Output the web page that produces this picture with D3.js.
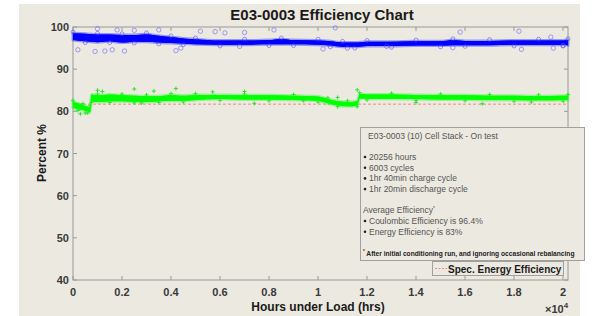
<!DOCTYPE html>
<html>
<head>
<meta charset="utf-8">
<script src="https://cdn.jsdelivr.net/npm/d3@7"></script>
<style>
  body { margin: 0; background: #fff; }
  svg { display: block; font-family: "Liberation Sans", Arial, sans-serif; }
</style>
</head>
<body>
<svg id="chart" width="597" height="316"></svg>
<script>
var w = 597, h = 316;
var margin = {left: 73, right: 29, top: 27, bottom: 36};

// coulombic efficiency band (blue circles)
var blueHours  = [0, 500, 1000, 1500, 2000, 2500, 3000, 3500, 4000, 4500, 5000, 6000, 7000, 8000, 8500, 9000, 10000, 10500, 11000, 11500, 12000, 13000, 14000, 15000, 15500, 16000, 17000, 18000, 19000, 20000, 20200];
var blueMid    = [97.7, 97.5, 97.3, 97.4, 97.2, 97.3, 97.4, 97.1, 96.9, 96.7, 96.5, 96.3, 96.3, 96.4, 96.5, 96.4, 96.3, 96.1, 95.8, 95.8, 96.0, 96.0, 96.1, 96.1, 96.3, 96.2, 96.2, 96.3, 96.3, 96.3, 96.3];
var blueSpread = [0.8, 0.9, 0.9, 0.8, 0.9, 0.8, 0.9, 0.8, 0.7, 0.6, 0.6, 0.5, 0.5, 0.5, 0.6, 0.5, 0.5, 0.5, 0.5, 0.5, 0.5, 0.5, 0.5, 0.5, 0.6, 0.5, 0.5, 0.5, 0.5, 0.5, 0.6];
var blueOutliers = [[200, 94.6], [900, 94.2], [1300, 94.3], [1600, 94.6], [2100, 94.3], [1000, 99.6], [1800, 99.3], [2500, 99.2], [3500, 99.3], [4200, 94.4], [4400, 95.0], [5200, 99.0], [5800, 98.9], [6200, 98.6], [7000, 98.7], [6800, 95.4], [8200, 99.3], [10700, 99.8], [10200, 94.8], [11200, 95.0], [12800, 95.4], [15800, 98.8], [15500, 95.1], [18200, 99.0], [18300, 94.7], [19500, 97.6], [19600, 95.0], [20000, 95.6]];

// energy efficiency band (green plus)
var greenHours  = [0, 200, 400, 600, 700, 750, 1000, 1500, 2000, 2500, 3000, 3500, 4000, 4500, 5000, 6000, 7000, 8000, 9000, 10000, 10400, 10800, 11200, 11600, 11700, 12000, 13000, 14000, 15000, 16000, 17000, 18000, 19000, 20000, 20200];
var greenMid    = [81.6, 81.2, 80.9, 80.5, 80.4, 83.2, 83.0, 83.2, 83.1, 83.0, 82.9, 83.0, 83.2, 83.1, 83.3, 83.4, 83.3, 83.3, 83.2, 83.0, 82.4, 81.9, 81.7, 81.9, 83.6, 83.5, 83.5, 83.4, 83.3, 83.3, 83.2, 83.2, 83.1, 83.2, 83.2];
var greenSpread = [0.7, 0.7, 0.6, 0.6, 0.6, 0.8, 0.8, 0.8, 0.7, 0.7, 0.7, 0.6, 0.7, 0.6, 0.6, 0.5, 0.5, 0.5, 0.5, 0.5, 0.5, 0.5, 0.5, 0.5, 0.5, 0.5, 0.5, 0.5, 0.5, 0.5, 0.5, 0.5, 0.5, 0.5, 0.5];
var greenOutliers = [[300, 79.4], [500, 79.6], [1000, 85.0], [1200, 84.7], [2500, 85.3], [3300, 84.8], [4200, 85.4], [5700, 84.6], [7000, 84.7], [10800, 83.3], [11600, 85.1], [9400, 82.5], [14000, 82.1], [16700, 81.8], [18700, 82.2], [7400, 81.9], [2800, 82.0]];

var specEnergy = 81.7;
var xTicks = [0, 2000, 4000, 6000, 8000, 10000, 12000, 14000, 16000, 18000, 20000];
var xTickLabels = ["0", "0.2", "0.4", "0.6", "0.8", "1", "1.2", "1.4", "1.6", "1.8", "2"];
var yTicks = [40, 50, 60, 70, 80, 90, 100];

var noteTitle = "E03-0003 (10) Cell Stack -  On test";
var noteBullets1 = ["20256 hours", "6003 cycles", "1hr 40min charge cycle", "1hr 20min discharge cycle"];
var noteBullets2 = ["Coulombic Efficiency is 96.4%", "Energy Efficiency is 83%"];
var footnote = "After initial conditioning run, and ignoring occasional rebalancing";

var svg = d3.select("#chart");

// figure background
svg.append("rect").attr("x", 19).attr("y", 4).attr("width", 561).attr("height", 312).attr("fill", "#ece9e0");

var x = d3.scaleLinear().domain([0, 20200]).range([margin.left, 568]);
var x0 = d3.scaleLinear().domain([0, 20000]).range([margin.left, 563]);
var y = d3.scaleLinear().domain([40, 100]).range([280, margin.top]);

var axisColor = "#9a9a9a";
svg.append("rect").attr("x", x(0)).attr("y", y(100)).attr("width", x(20200) - x(0)).attr("height", y(40) - y(100))
  .attr("fill", "none").attr("stroke", axisColor).attr("stroke-width", 1);

// ticks point inward, MATLAB style
xTicks.forEach(function(t) {
  svg.append("line").attr("x1", x0(t)).attr("x2", x0(t)).attr("y1", y(40)).attr("y2", y(40) - 4).attr("stroke", axisColor);
  svg.append("line").attr("x1", x0(t)).attr("x2", x0(t)).attr("y1", y(100)).attr("y2", y(100) + 4).attr("stroke", axisColor);
});
yTicks.forEach(function(t) {
  svg.append("line").attr("x1", x(0)).attr("x2", x(0) + 4).attr("y1", y(t)).attr("y2", y(t)).attr("stroke", axisColor);
  svg.append("line").attr("x1", x(20200)).attr("x2", x(20200) - 4).attr("y1", y(t)).attr("y2", y(t)).attr("stroke", axisColor);
});

svg.selectAll(".ytl").data(yTicks).enter().append("text")
  .attr("x", x(0) - 4).attr("y", function(d) { return y(d) + 4; })
  .attr("text-anchor", "end").attr("font-size", 11).attr("font-weight", "bold").attr("fill", "#3a3a3a")
  .text(function(d) { return d; });
svg.selectAll(".xtl").data(xTicks).enter().append("text")
  .attr("x", function(d) { return x0(d); }).attr("y", 296)
  .attr("text-anchor", "middle").attr("font-size", 11).attr("font-weight", "bold").attr("fill", "#3a3a3a")
  .text(function(d, i) { return xTickLabels[i]; });

var mult = svg.append("text").attr("x", 545).attr("y", 313).attr("font-size", 11).attr("font-weight", "bold").attr("fill", "#3a3a3a");
mult.append("tspan").text("\u00d710");
mult.append("tspan").attr("dy", -5).attr("font-size", 8).text("4");

// spec line
svg.append("line").attr("x1", x(0)).attr("x2", x(20200)).attr("y1", y(specEnergy)).attr("y2", y(specEnergy))
  .attr("stroke", "#f08a8a").attr("stroke-dasharray", "3,2").attr("stroke-width", 1);

function band(hours, mid, spread, color) {
  var pts = hours.map(function(hh, i) { return {h: hh, m: mid[i], s: spread[i]}; });
  var area = d3.area().x(function(d) { return x(d.h); })
    .y0(function(d) { return y(d.m - d.s); }).y1(function(d) { return y(d.m + d.s); })
    .curve(d3.curveMonotoneX);
  // soft fringe first, then the dense core
  svg.append("path").datum(pts).attr("d", area).attr("fill", color).attr("stroke", color)
    .attr("stroke-width", 3).attr("stroke-opacity", 0.35).attr("stroke-linejoin", "round");
  svg.append("path").datum(pts).attr("d", area).attr("fill", color).attr("stroke", "none");
  return pts;
}

var bpts = band(blueHours, blueMid, blueSpread, "#0000ff");
var gpts = band(greenHours, greenMid, greenSpread, "#00ff00");

// a few markers along the edges for scatter texture
bpts.forEach(function(d, i) {
  var v = (i % 2 === 0) ? d.m + d.s + 0.3 : d.m - d.s - 0.3;
  svg.append("circle").attr("cx", x(d.h)).attr("cy", y(v)).attr("r", 2)
    .attr("fill", "none").attr("stroke", "#3a3aff").attr("stroke-width", 0.7).attr("opacity", 0.7);
});
blueOutliers.forEach(function(d) {
  svg.append("circle").attr("cx", x(d[0])).attr("cy", y(d[1])).attr("r", 2.2)
    .attr("fill", "none").attr("stroke", "#5555ff").attr("stroke-width", 0.7).attr("opacity", 0.75);
});
function plus(px, py, c) {
  svg.append("path").attr("d", "M" + (px - 2) + "," + py + "h4M" + px + "," + (py - 2) + "v4")
    .attr("stroke", c).attr("stroke-width", 1);
}
gpts.forEach(function(d, i) {
  plus(x(d.h), y((i % 2 === 0) ? d.m + d.s + 0.3 : d.m - d.s - 0.3), "#22ee22");
});
greenOutliers.forEach(function(d) { plus(x(d[0]), y(d[1]), "#33dd33"); });

// title and labels
svg.append("text").attr("x", 322).attr("y", 20).attr("text-anchor", "middle").attr("font-size", 15)
  .attr("font-weight", "bold").attr("fill", "#1a1a1a").text("E03-0003 Efficiency Chart");
svg.append("text").attr("transform", "translate(46,153) rotate(-90)").attr("text-anchor", "middle")
  .attr("font-size", 12).attr("font-weight", "bold").attr("fill", "#1a1a1a").text("Percent %");
svg.append("text").attr("x", 318).attr("y", 311).attr("text-anchor", "middle").attr("font-size", 12)
  .attr("font-weight", "bold").attr("fill", "#1a1a1a").text("Hours under Load (hrs)");

// annotation box
svg.append("rect").attr("x", 360.5).attr("y", 127.5).attr("width", 224).attr("height", 133)
  .attr("fill", "#ece9e0").attr("stroke", "#a0a0a0");
var tc = "#555";
svg.append("text").attr("x", 368).attr("y", 139).attr("font-size", 8.5).attr("fill", tc).text(noteTitle);
noteBullets1.forEach(function(t, i) {
  var yy = 160 + i * 10.7;
  svg.append("circle").attr("cx", 365).attr("cy", yy - 3).attr("r", 1.3).attr("fill", "#222");
  svg.append("text").attr("x", 369).attr("y", yy).attr("font-size", 8.5).attr("fill", tc).text(t);
});
var avg = svg.append("text").attr("x", 363).attr("y", 213).attr("font-size", 8.5).attr("fill", tc);
avg.append("tspan").text("Average Efficiency");
avg.append("tspan").attr("dy", -3).attr("font-size", 5).text("*");
noteBullets2.forEach(function(t, i) {
  var yy = 224 + i * 10.7;
  svg.append("circle").attr("cx", 365).attr("cy", yy - 3).attr("r", 1.3).attr("fill", "#222");
  svg.append("text").attr("x", 369).attr("y", yy).attr("font-size", 8.5).attr("fill", tc).text(t);
});
var fn = svg.append("text").attr("x", 363).attr("y", 256).attr("font-size", 6.65).attr("font-weight", "bold").attr("fill", "#222");
fn.append("tspan").attr("dy", -3).attr("font-size", 4.5).text("*");
fn.append("tspan").attr("dy", 3).text(" " + footnote);

// legend
svg.append("rect").attr("x", 432.5).attr("y", 261.5).attr("width", 131).attr("height", 14)
  .attr("fill", "#ece9e0").attr("stroke", "#a0a0a0");
svg.append("line").attr("x1", 435).attr("x2", 447).attr("y1", 268.5).attr("y2", 268.5)
  .attr("stroke", "#f08a8a").attr("stroke-dasharray", "2,1.5");
svg.append("text").attr("x", 448).attr("y", 272.5).attr("font-size", 10).attr("font-weight", "bold")
  .attr("fill", "#1a1a1a").text("Spec. Energy Efficiency");
</script>
</body>
</html>
